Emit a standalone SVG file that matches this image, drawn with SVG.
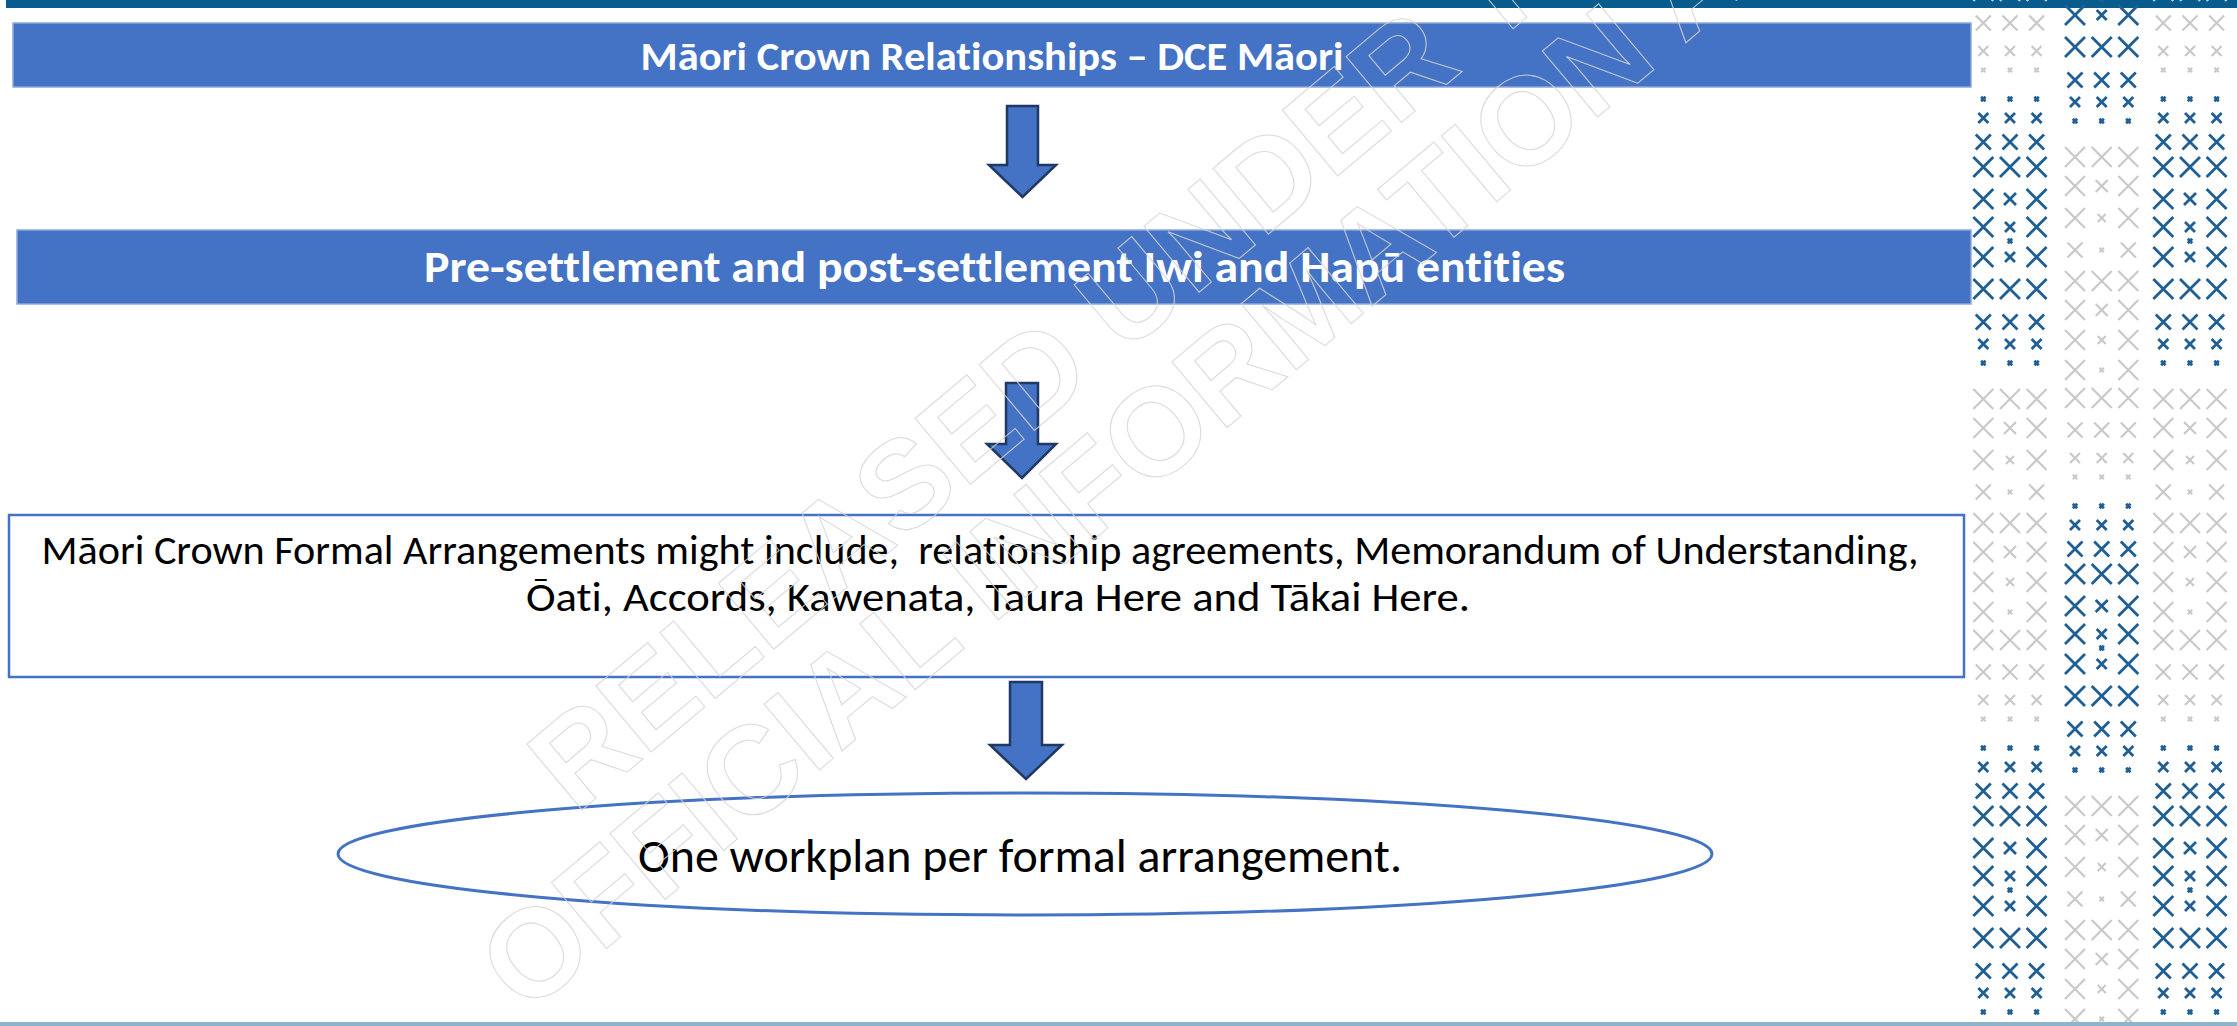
<svg xmlns="http://www.w3.org/2000/svg" xmlns:xlink="http://www.w3.org/1999/xlink" width="2237" height="1026" viewBox="0 0 2237 1026">
<style>
.bar{fill:#4472C4;stroke:#8EA9DB;stroke-width:1.5}
.hdr{font-family:Carlito,Calibri,Lato,'Noto Sans',sans-serif;font-weight:700;fill:#fff;text-anchor:middle;font-variant-ligatures:none}
.body{font-family:Carlito,Calibri,Lato,'Noto Sans',sans-serif;fill:#000;text-anchor:middle;font-variant-ligatures:none}
.arrow{fill:#4472C4;stroke:#1F3864;stroke-width:2.5;stroke-linejoin:miter}
.wm{font-family:'Liberation Sans',Arial,sans-serif;font-weight:700;font-size:125px;fill:none;stroke:#d6d6d6;stroke-width:1.1;text-anchor:middle;opacity:0.85}
.xb{stroke:#1F5F93;stroke-width:2.8;fill:none}
.xg{stroke:#C9C9C9;stroke-width:2.2;fill:none}
</style>
<defs>
<path id="xa" d="M-10-10L10 10M-10 10L10-10"/>
<path id="xb" d="M-7.5-7.5L7.5 7.5M-7.5 7.5L7.5-7.5"/>
<path id="xc" d="M-6-6L6 6M-6 6L6-6"/>
<path id="xd" d="M-5-5L5 5M-5 5L5-5"/>
<path id="xe" d="M-4-4L4 4M-4 4L4-4"/>
<path id="xf" d="M-2.2-2.2L2.2 2.2M-2.2 2.2L2.2-2.2"/>
<g id="per">
<g class="xg">
<use href="#xa" x="0" y="0"/><use href="#xa" x="26.7" y="0"/><use href="#xa" x="53.3" y="0"/>
<use href="#xa" x="0" y="29"/><use href="#xc" x="26.7" y="29"/><use href="#xa" x="53.3" y="29"/>
<use href="#xa" x="0" y="61"/><use href="#xe" x="26.7" y="61"/><use href="#xa" x="53.3" y="61"/>
<use href="#xb" x="0" y="93"/><use href="#xf" x="26.7" y="93"/><use href="#xb" x="53.3" y="93"/>
<use href="#xa" x="0" y="124"/><use href="#xa" x="26.7" y="124"/><use href="#xa" x="53.3" y="124"/>
<use href="#xa" x="0" y="153"/><use href="#xc" x="26.7" y="153"/><use href="#xa" x="53.3" y="153"/>
<use href="#xa" x="0" y="183"/><use href="#xe" x="26.7" y="183"/><use href="#xa" x="53.3" y="183"/>
<use href="#xa" x="0" y="213"/><use href="#xf" x="26.7" y="213"/><use href="#xa" x="53.3" y="213"/>
<use href="#xa" x="0" y="241"/><use href="#xa" x="26.7" y="241"/><use href="#xa" x="53.3" y="241"/>
<use href="#xb" x="0" y="273"/><use href="#xb" x="26.7" y="273"/><use href="#xb" x="53.3" y="273"/>
<use href="#xd" x="0" y="301"/><use href="#xd" x="26.7" y="301"/><use href="#xd" x="53.3" y="301"/>
<use href="#xf" x="0" y="320"/><use href="#xf" x="26.7" y="320"/><use href="#xf" x="53.3" y="320"/>
</g>
<g class="xb">
<use href="#xf" x="0" y="349"/><use href="#xf" x="26.7" y="349"/><use href="#xf" x="53.3" y="349"/>
<use href="#xd" x="0" y="368"/><use href="#xd" x="26.7" y="368"/><use href="#xd" x="53.3" y="368"/>
<use href="#xb" x="0" y="392"/><use href="#xb" x="26.7" y="392"/><use href="#xb" x="53.3" y="392"/>
<use href="#xa" x="0" y="417"/><use href="#xa" x="26.7" y="417"/><use href="#xa" x="53.3" y="417"/>
<use href="#xa" x="0" y="449"/><use href="#xc" x="26.7" y="449"/><use href="#xa" x="53.3" y="449"/>
<use href="#xa" x="0" y="477"/><use href="#xd" x="26.7" y="477"/><use href="#xa" x="53.3" y="477"/>
<use href="#xf" x="26.7" y="491"/>
<use href="#xa" x="0" y="507"/><use href="#xd" x="26.7" y="507"/><use href="#xa" x="53.3" y="507"/>
<use href="#xa" x="0" y="539"/><use href="#xa" x="26.7" y="539"/><use href="#xa" x="53.3" y="539"/>
<use href="#xb" x="0" y="572"/><use href="#xb" x="26.7" y="572"/><use href="#xb" x="53.3" y="572"/>
<use href="#xd" x="0" y="594"/><use href="#xd" x="26.7" y="594"/><use href="#xd" x="53.3" y="594"/>
<use href="#xf" x="0" y="613"/><use href="#xf" x="26.7" y="613"/><use href="#xf" x="53.3" y="613"/>
</g>
</g>
</defs>
<rect x="0" y="0" width="2237" height="1026" fill="#fff"/>
<rect id="top-band" x="6" y="0" width="2231" height="8" fill="#075C8D"/>
<g id="pattern">
<use href="#per" transform="translate(1983.3,-250)"/>
<use href="#per" transform="translate(1983.3,399)"/>
<use href="#per" transform="translate(2075,-492)"/>
<use href="#per" transform="translate(2075,157)"/>
<use href="#per" transform="translate(2075,806)"/>
<use href="#per" transform="translate(2163.3,-250)"/>
<use href="#per" transform="translate(2163.3,399)"/>
</g>
<rect id="bottom-line" x="0" y="1022" width="2237" height="4" fill="#8EB4CB"/>
<g id="node-dce">
<rect class="bar" x="13" y="23" width="1958" height="64"/>
<text class="hdr" x="992" y="70" font-size="40" textLength="703" lengthAdjust="spacingAndGlyphs">Māori Crown Relationships – DCE Māori</text>
</g>
<g id="node-entities">
<rect class="bar" x="17" y="230" width="1954" height="74"/>
<text class="hdr" x="994.5" y="282" font-size="44" textLength="1141" lengthAdjust="spacingAndGlyphs">Pre-settlement and post-settlement Iwi and Hapū entities</text>
</g>
<g id="node-arrangements">
<rect x="9" y="515" width="1955" height="162" fill="#fff" stroke="#4472C4" stroke-width="2.5"/>
<text class="body" x="980" y="564" font-size="40" textLength="1877" lengthAdjust="spacingAndGlyphs" xml:space="preserve">Māori Crown Formal Arrangements might include,  relationship agreements, Memorandum of Understanding,</text>
<text class="body" x="998" y="611" font-size="40" textLength="944" lengthAdjust="spacingAndGlyphs">Ōati, Accords, Kawenata, Taura Here and Tākai Here.</text>
</g>
<g id="node-workplan">
<ellipse cx="1025" cy="854" rx="687" ry="61" fill="#fff" stroke="#4472C4" stroke-width="3"/>
<text class="body" x="1020" y="872" font-size="48" textLength="764" lengthAdjust="spacingAndGlyphs">One workplan per formal arrangement.</text>
</g>
<g id="connectors">
<polygon class="arrow" points="1007,106 1038,106 1038,165 1056,165 1022.5,197 989,165 1007,165"/>
<polygon class="arrow" points="1006,383 1038,383 1038,444 1056,444 1022,478 987,444 1006,444"/>
<polygon class="arrow" points="1010,682 1042,682 1042,745 1062,745 1026,779 990,745 1010,745"/>
</g>
<g id="watermark">
<text class="wm" transform="translate(1129,351) rotate(-40)">RELEASED UNDER THE</text>
<text class="wm" transform="translate(1203,448) rotate(-40)">OFFICIAL INFORMATION ACT</text>
</g>
</svg>
